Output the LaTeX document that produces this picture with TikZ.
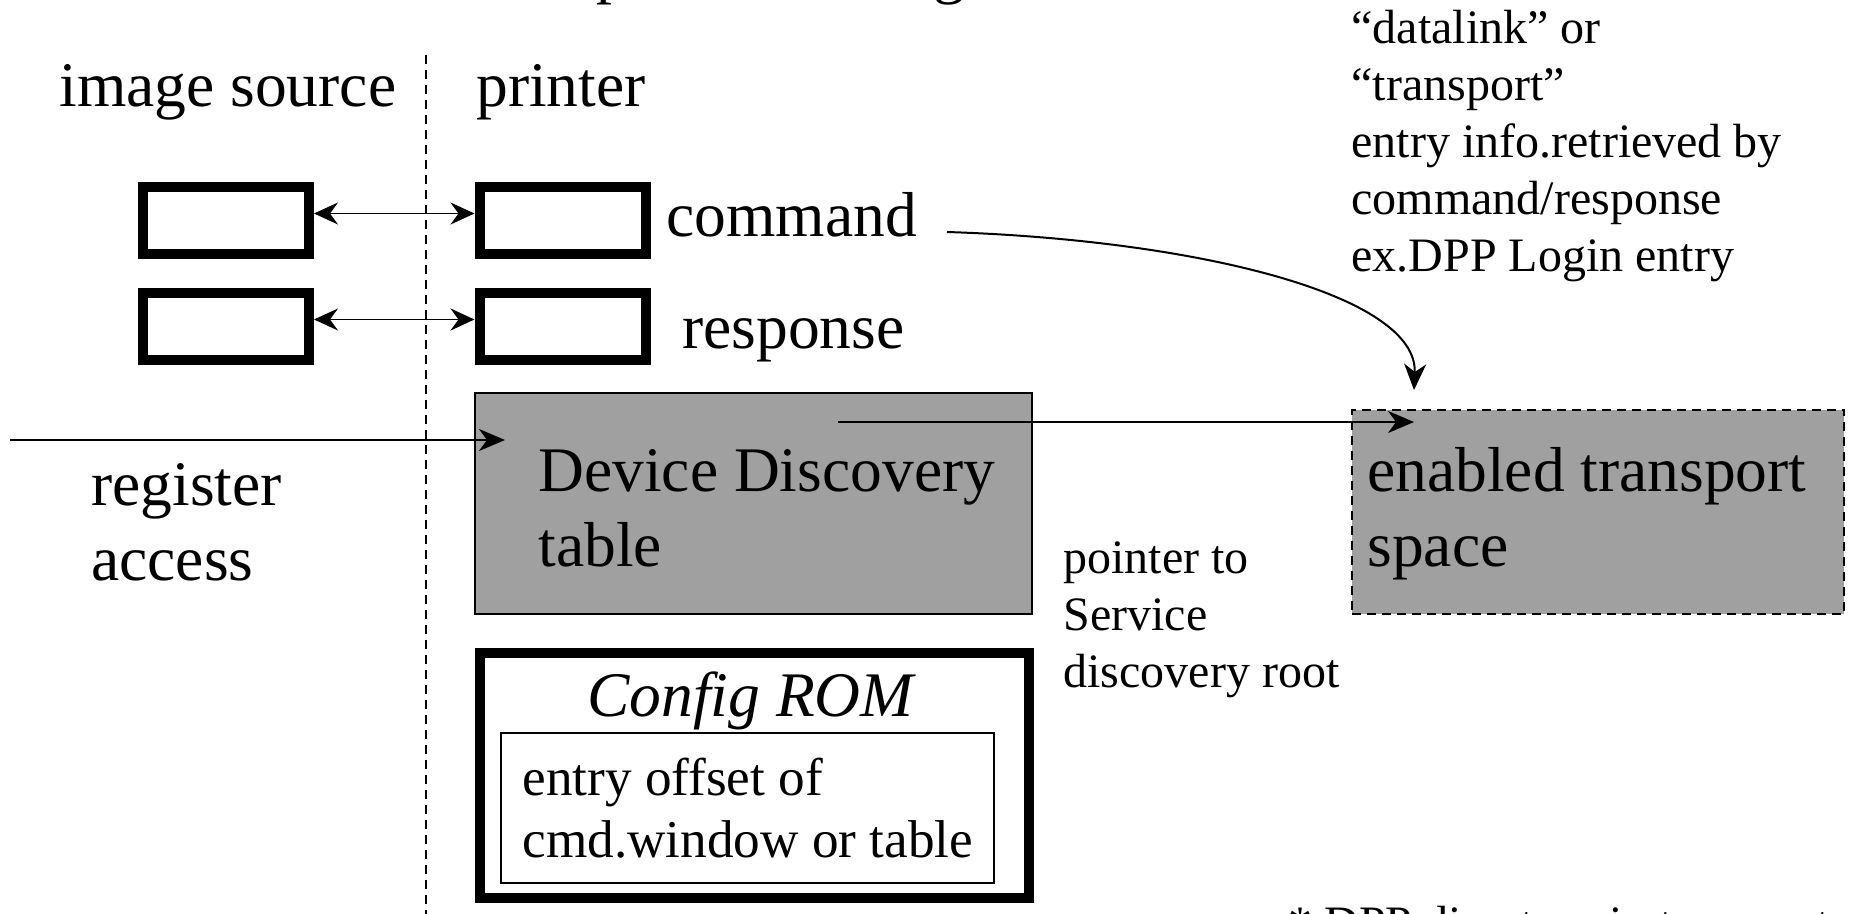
\documentclass[tikz,border=0pt]{standalone}
\usepackage{fontspec}
\setmainfont{Liberation Serif}
\usepackage{xcolor}
\definecolor{tablegray}{HTML}{A0A0A0}
\usetikzlibrary{arrows.meta}

\tikzset{
    bigtxt/.style={font=\fontsize{31.75}{37.5}\selectfont, inner sep=0pt, anchor=base west, align=left},
    midtxt/.style={font=\fontsize{26.6}{31}\selectfont, inner sep=0pt, anchor=base west, align=left},
    notetxt/.style={font=\fontsize{24}{28.5}\selectfont, inner sep=0pt, anchor=base west, align=left},
    regbox/.style={draw, line width=5pt, minimum width=83pt, minimum height=33.5pt, inner sep=0pt},
    tablebox/.style={draw, line width=1pt, fill=tablegray, inner sep=0pt},
    link/.style={line width=1pt, -{Stealth[length=13pt,width=11pt,inset=4pt]}},
    duplex/.style={line width=.8pt, {Stealth[length=12pt,width=11pt,inset=4pt]}-{Stealth[length=12pt,width=11pt,inset=4pt]}},
}

\begin{document}
\begin{tikzpicture}[x=0.5pt, y=-0.5pt]
            \useasboundingbox (0, 0) rectangle (1856, 914);
            \clip (0, 0) rectangle (1856, 914);

            % title, cut off by the top edge
            \node[bigtxt] (title) at (448, -8) {Example of a configuration};

            \node[bigtxt] (src) at (59, 107) {image source};
            \node[bigtxt] (prn) at (476, 107) {printer};

            \coordinate (divtop) at (426, 55);
            \coordinate (divbot) at (426, 914);
            \draw[line width=1pt, dash pattern=on 4.5pt off 3pt] (divtop) -- (divbot);

            % register windows
            \node[regbox] (srccmd) at (226, 220.5) {};
            \node[regbox] (srcresp) at (226, 326.5) {};
            \node[regbox] (prncmd) at (562.5, 220.5) {};
            \node[regbox] (prnresp) at (562.5, 326.5) {};

            \draw[duplex] ([yshift=3.5pt]srccmd.east) -- ([yshift=3.5pt]prncmd.west);
            \draw[duplex] ([yshift=3.5pt]srcresp.east) -- ([yshift=3.5pt]prnresp.west);

            \node[bigtxt] (cmd) at (666, 237) {command};
            \node[bigtxt] (resp) at (682, 349) {response};

            % tables (multi-line texts sit on their last line)
            \node[tablebox, minimum width=278.5pt, minimum height=110.5pt] (ddt) at (753.5, 503.5) {};
            \node[bigtxt] (ddttext) at (538, 566) {Device Discovery\\table};

            \node[tablebox, dash pattern=on 4.5pt off 3pt, minimum width=246pt, minimum height=102.25pt] (ets) at (1598, 511.75) {};
            \node[bigtxt] (etstext) at (1367, 566) {enabled transport\\space};

            \coordinate (regin) at (9.5, 440);
            \coordinate (regend) at (505, 440);
            \draw[link] (regin) -- (regend);
            \node[bigtxt] (reg) at (91, 580) {register\\access};

            \coordinate (ptrstart) at (838, 422);
            \coordinate (ptrend) at (1414, 422);
            \draw[link] (ptrstart) -- (ptrend);

            \coordinate (cmdout) at (947, 232);
            \coordinate (etsin) at (1414, 390);
            \draw[link] (cmdout) .. controls +(250, 8) and +(4, -95) .. (etsin);

            % config ROM
            \node[regbox, minimum width=274.5pt, minimum height=122.5pt] (rom) at (754.5, 775.5) {};
            \node[font=\fontsize{31.75}{37.5}\selectfont\itshape, inner sep=0pt, anchor=base] (romtitle) at (750.5, 716) {Config ROM};
            \node[draw, line width=1pt, inner sep=0pt, minimum width=246.6pt, minimum height=75pt] (romentry) at (747.4, 808) {};
            \node[midtxt] (romtext) at (522, 857) {entry offset of\\cmd.window or table};

            % notes
            \node[notetxt] (ptrnote) at (1063, 687) {pointer to\\Service\\discovery root};
            \node[notetxt] (entrynote) at (1351, 272) {“datalink” or\\“transport”\\entry info.retrieved by\\command/response\\ex.DPP Login entry};
            \node[notetxt] (footnote) at (1288, 939) {* DPP directory in transport space};
\end{tikzpicture}
\end{document}
